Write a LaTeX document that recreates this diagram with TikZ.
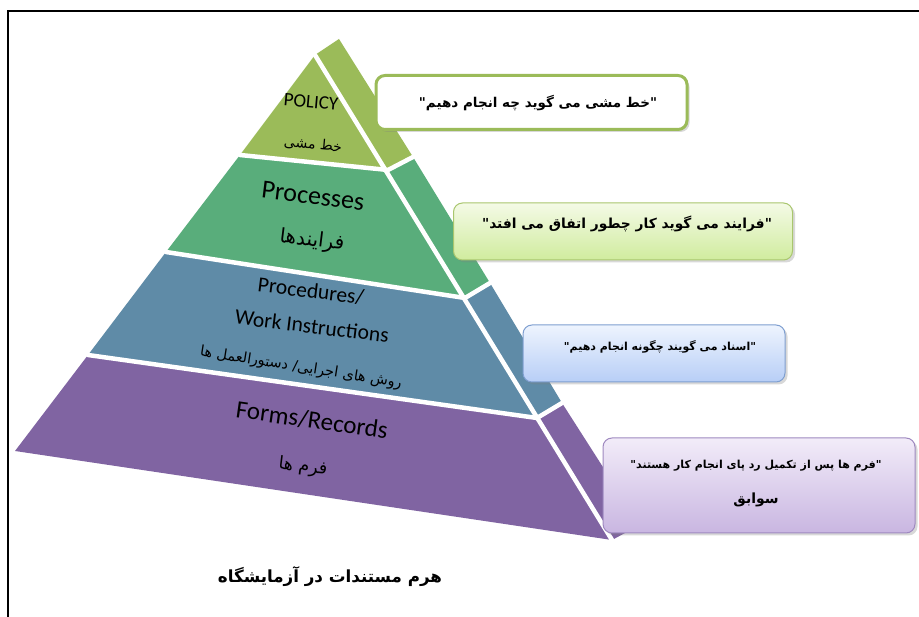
\documentclass[tikz,border=0pt]{standalone}
\usepackage{fontspec}
\setmainfont{Carlito}
\newfontfamily\fa[Script=Arabic]{DejaVu Sans}
\TeXXeTstate=1
\usetikzlibrary{shadows}

\definecolor{tierOlive}{HTML}{9BBB59}
\definecolor{tierGreen}{HTML}{59AD7B}
\definecolor{tierBlue}{HTML}{5F8BA7}
\definecolor{tierPurple}{HTML}{8064A2}
\definecolor{cGreenTop}{HTML}{F4FAE6}
\definecolor{cGreenBot}{HTML}{D0EC9E}
\definecolor{cGreenLine}{HTML}{A9C66E}
\definecolor{cBlueTop}{HTML}{EEF4FE}
\definecolor{cBlueBot}{HTML}{B7CEF6}
\definecolor{cBlueLine}{HTML}{7F9FD0}
\definecolor{cPurpTop}{HTML}{F2ECF9}
\definecolor{cPurpBot}{HTML}{C9B6E1}
\definecolor{cPurpLine}{HTML}{9F89C0}

\tikzset{
  gap/.style={white, line width=4.5pt, line join=round, line cap=round},
  lbl/.style={inner sep=0pt, font=\fontsize{#1}{#1}\selectfont},
  falbl/.style={inner sep=0pt, font=\fa\fontsize{#1}{#1}\selectfont},
  calltxt/.style={inner sep=0pt, font=\fa\bfseries\fontsize{#1}{#1}\selectfont},
  callbox/.style={rounded corners=9pt, inner sep=0pt,
    drop shadow={opacity=0.3, shadow xshift=2.5pt, shadow yshift=-2.5pt}},
}

\begin{document}
\begin{tikzpicture}[x=1pt, y=-1pt]
  \useasboundingbox (0,0) rectangle (919,617);
  \fill[white] (0,0) rectangle (919,617);

  % page frame
  \draw[line width=2pt] (919,11) -- (8,11) -- (8,617);

  % tier boundaries: left edge L, front/side split S, right edge R
  \coordinate (L0) at (315,55);  \coordinate (S0) at (315,55);  \coordinate (R0) at (339,39);
  \coordinate (L1) at (240,155); \coordinate (S1) at (388,170); \coordinate (R1) at (413,157);
  \coordinate (L2) at (166,252); \coordinate (S2) at (465,298); \coordinate (R2) at (490,283);
  \coordinate (L3) at (88,355);  \coordinate (S3) at (537,418); \coordinate (R3) at (562,403);
  \coordinate (L4) at (15,451);  \coordinate (S4) at (612,540); \coordinate (R4) at (640,525);

  % front faces
  \fill[tierOlive]  (L0) -- (S0) -- (S1) -- (L1) -- cycle;
  \fill[tierGreen]  (L1) -- (S1) -- (S2) -- (L2) -- cycle;
  \fill[tierBlue]   (L2) -- (S2) -- (S3) -- (L3) -- cycle;
  \fill[tierPurple] (L3) -- (S3) -- (S4) -- (L4) -- cycle;
  % side faces
  \fill[tierOlive]  (S0) -- (R0) -- (R1) -- (S1) -- cycle;
  \fill[tierGreen]  (S1) -- (R1) -- (R2) -- (S2) -- cycle;
  \fill[tierBlue]   (S2) -- (R2) -- (R3) -- (S3) -- cycle;
  \fill[tierPurple] (S3) -- (R3) -- (R4) -- (S4) -- cycle;

  % white separators
  \draw[gap] (S0) -- (S4);
  \draw[gap] (L1) -- (S1) -- (R1);
  \draw[gap] (L2) -- (S2) -- (R2);
  \draw[gap] (L3) -- (S3) -- (R3);

  % tier labels
  \node[lbl=19, rotate=-5] (policyEn) at (311,102) {POLICY};
  \node[falbl=14, rotate=-5] (policyFa) at (313,145) {\beginR خط مشی\endR};
  \node[lbl=26, rotate=-7] (procEn) at (313,196) {Processes};
  \node[falbl=20, rotate=-7] (procFa) at (312,241) {\beginR فرایندها\endR};
  \node[lbl=21.5, rotate=-7] (pwiEnA) at (311,291) {Procedures/};
  \node[lbl=21.5, rotate=-7] (pwiEnB) at (312,326) {Work Instructions};
  \node[falbl=14.5, rotate=-9] (pwiFa) at (301,368) {\beginR روش های اجرایی/ دستورالعمل ها\endR};
  \node[lbl=25, rotate=-8] (formsEn) at (312,420) {Forms/Records};
  \node[falbl=17.5, rotate=-7] (formsFa) at (303,467) {\beginR فرم ها\endR};

  % callouts
  \node[callbox, draw=tierOlive, line width=3pt, fill=white,
        minimum width=311pt, minimum height=54pt] (c1) at (531.5,102.5) {};
  \node[calltxt=13.5] (c1t) at (538,103) {\beginR "خط مشی می گوید چه انجام دهیم"\endR};

  \node[callbox, draw=cGreenLine, line width=1pt,
        top color=cGreenTop, bottom color=cGreenBot,
        minimum width=339pt, minimum height=57pt] (c2) at (623,231.5) {};
  \node[calltxt=13.8] (c2t) at (627,224) {\beginR "فرایند می گوید کار چطور اتفاق می افتد"\endR};

  \node[callbox, draw=cBlueLine, line width=1pt,
        top color=cBlueTop, bottom color=cBlueBot,
        minimum width=262pt, minimum height=57pt] (c3) at (654,353.5) {};
  \node[calltxt=11] (c3t) at (660,347) {\beginR "اسناد می گویند چگونه انجام دهیم"\endR};

  \node[callbox, draw=cPurpLine, line width=1pt,
        top color=cPurpTop, bottom color=cPurpBot,
        minimum width=312pt, minimum height=95pt] (c4) at (759,485.5) {};
  \node[calltxt=11] (c4t) at (756,466) {\beginR "فرم ها پس از تکمیل رد پای انجام کار هستند"\endR};
  \node[calltxt=14] (c4s) at (756,500) {\beginR سوابق\endR};

  % caption
  \node[calltxt=16.7] (caption) at (330,577) {\beginR هرم مستندات در آزمایشگاه\endR};
\end{tikzpicture}
\end{document}
